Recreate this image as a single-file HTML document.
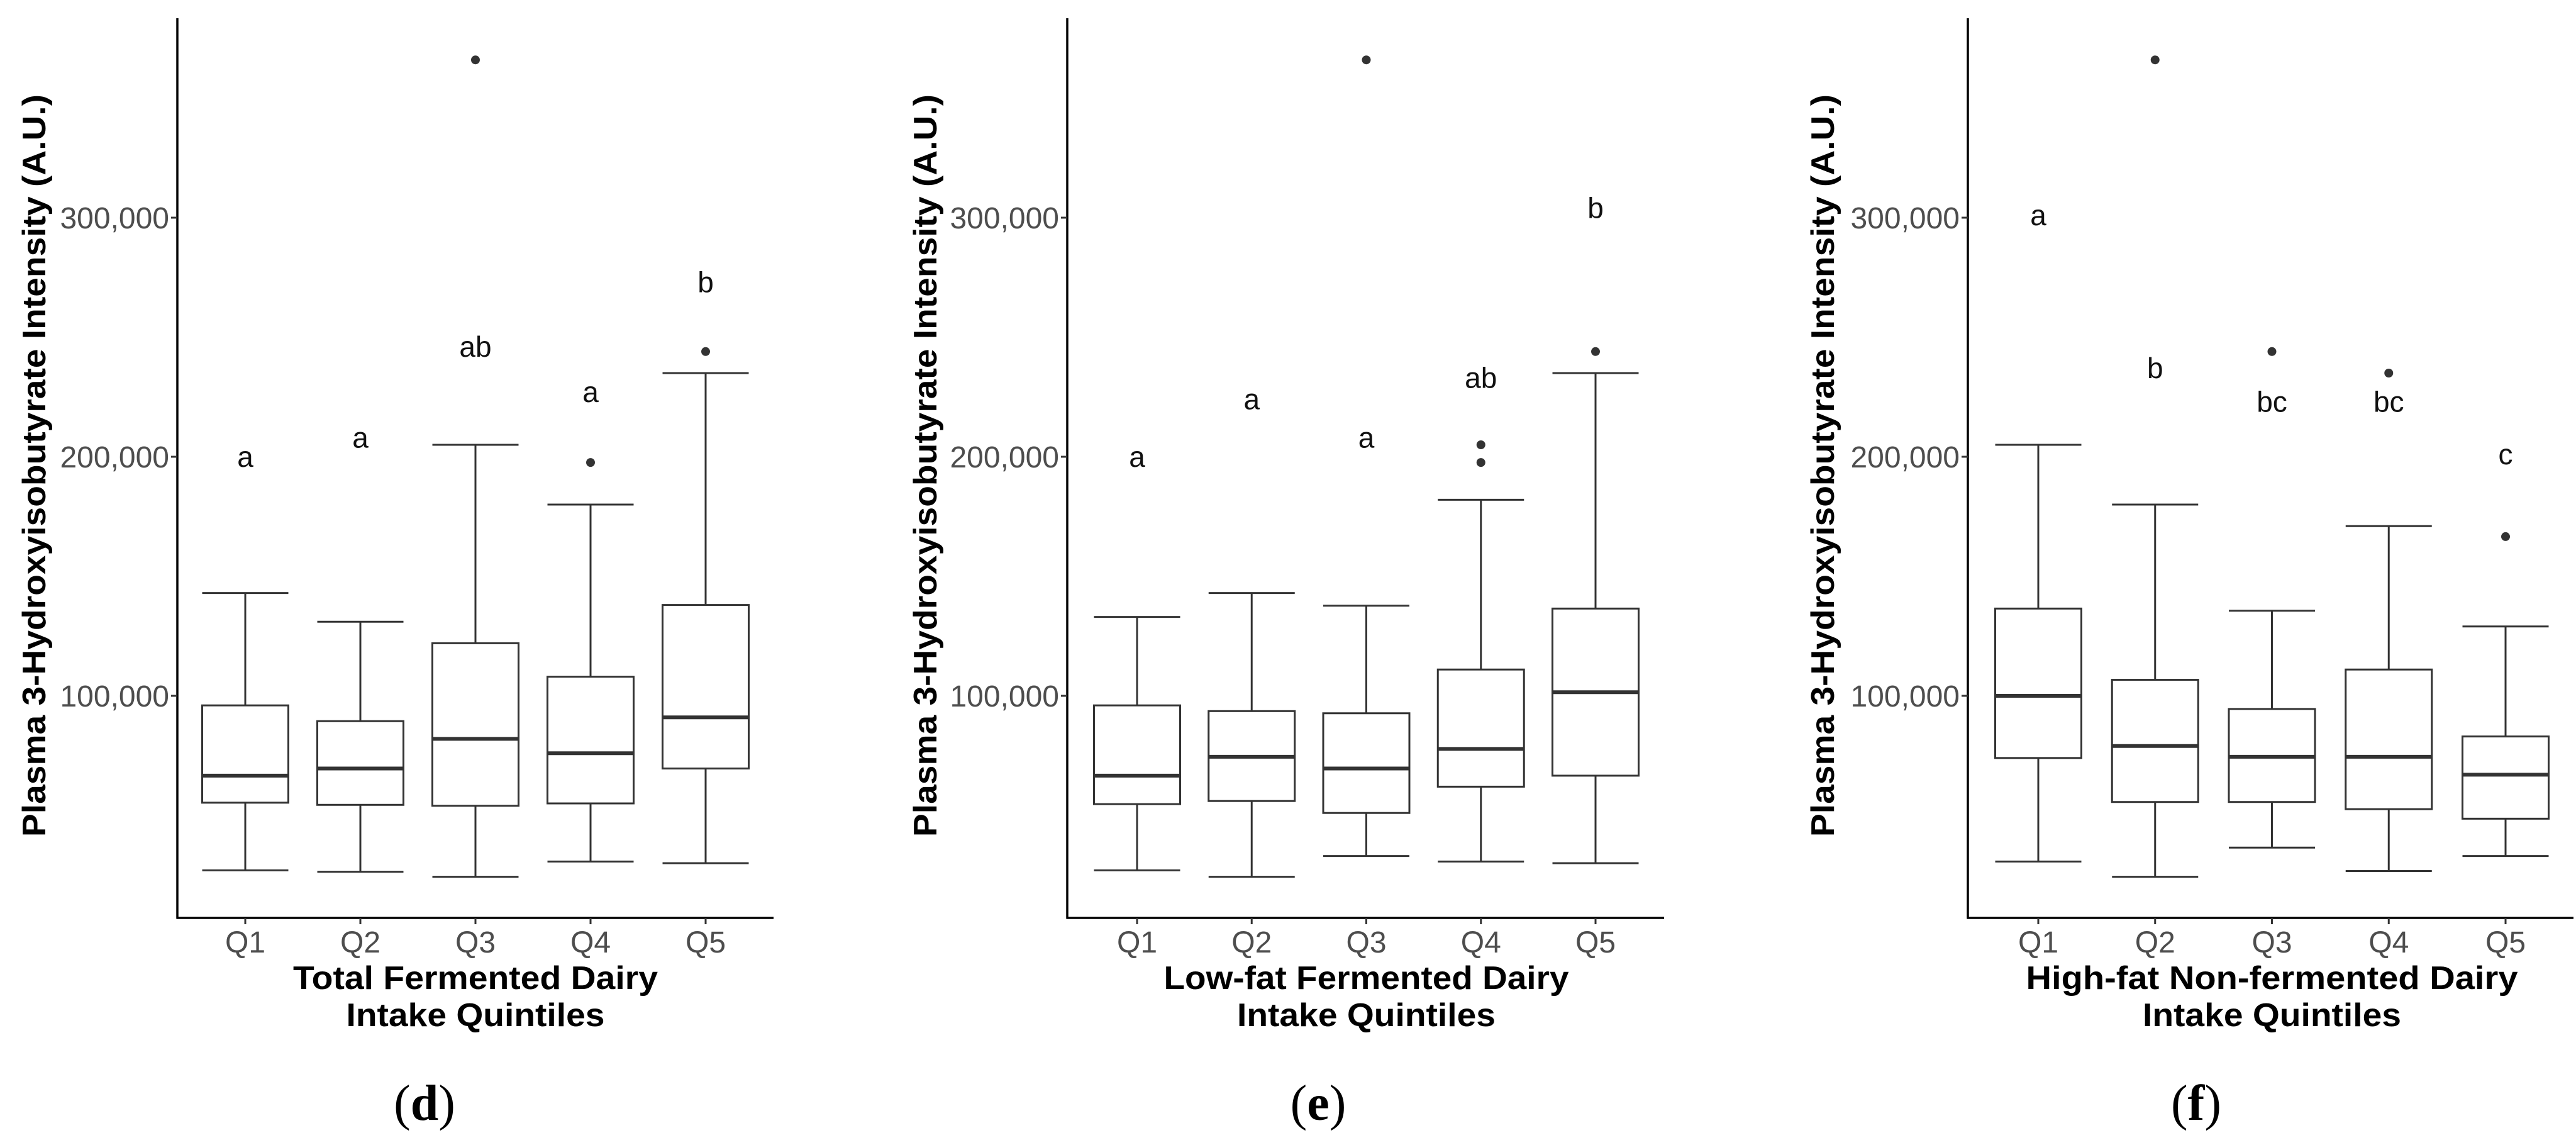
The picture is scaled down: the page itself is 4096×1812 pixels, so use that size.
<!DOCTYPE html>
<html><head><meta charset="utf-8">
<style>
html,body{margin:0;padding:0;background:#fff;}
svg{display:block;}
</style></head>
<body>
<svg id="fig" width="4096" height="1812" viewBox="0 0 4096 1812" xmlns="http://www.w3.org/2000/svg"></svg>
<script>
// ---- data (values in A.U.) ----
const categories = ["Q1","Q2","Q3","Q4","Q5"];
const yTicks = [100000, 200000, 300000];
const yTickLabels = ["100,000","200,000","300,000"];

const dTitle = ["Total Fermented Dairy","Intake Quintiles"];
const dLow = [27000, 26400, 24300, 30700, 30000];
const dQ1 = [55300, 54400, 54000, 55000, 69600];
const dMed = [66600, 69600, 82000, 76000, 91000];
const dQ3 = [96000, 89400, 122000, 108000, 138000];
const dHigh = [143000, 131000, 205000, 180000, 235000];
const dOutliers = [[], [], [366000], [197600], [244000]];
const dLetters = ["a","a","ab","a","b"];
const dLetterY = [199000, 207000, 245000, 226000, 272000];

const eTitle = ["Low-fat Fermented Dairy","Intake Quintiles"];
const eLow = [27000, 24300, 33000, 30700, 30000];
const eQ1 = [54700, 56000, 51000, 62000, 66600];
const eMed = [66600, 74500, 69600, 77800, 101500];
const eQ3 = [96000, 93600, 92700, 111000, 136500];
const eHigh = [133000, 143000, 137700, 182000, 235000];
const eOutliers = [[], [], [366000], [205000, 197600], [244000]];
const eLetters = ["a","a","a","ab","b"];
const eLetterY = [199000, 223000, 207000, 232000, 303000];

const fTitle = ["High-fat Non-fermented Dairy","Intake Quintiles"];
const fLow = [30700, 24300, 36500, 26700, 33000];
const fQ1 = [74000, 55600, 55600, 52600, 48600];
const fMed = [100000, 79000, 74500, 74500, 67000];
const fQ3 = [136500, 106700, 94500, 111000, 83000];
const fHigh = [205000, 180000, 135600, 171000, 129000];
const fOutliers = [[], [366000], [244000], [235000], [166600]];
const fLetters = ["a","b","bc","bc","c"];
const fLetterY = [300000, 236000, 222000, 222000, 200000];

const NS = "http://www.w3.org/2000/svg";
const svg = document.getElementById("fig");
function mk(tag, attrs, parent, text){
  const el = document.createElementNS(NS, tag);
  for (const k in attrs) el.setAttribute(k, attrs[k]);
  if (text !== undefined) el.textContent = text;
  (parent || svg).appendChild(el);
  return el;
}
// y axis scale shared: 100k at 1106, 200k at 726
function yScale(v){ return 1106 - (v - 100000) * 0.0038; }

function panel(cfg){
  const g = mk("g", {});
  
  
  const x0 = cfg.axisX, x1 = cfg.axisRight;
  const step = (cfg.q5x - cfg.q1x) / (categories.length - 1);
  const xScale = i => cfg.q1x + i * step;
  const bw = 137;
  // axes
  const ya = mk("line", {x1:x0, y1:29, x2:x0, y2:1460, stroke:"#000", "stroke-width":3.5}, g);
  
  
  const xa = mk("line", {x1:x0-1.5, y1:1459, x2:x1, y2:1459, stroke:"#000", "stroke-width":3.5}, g);
  
  
  // y ticks
  yTicks.forEach((v, i) => {
    const y = yScale(v);
    const t = mk("line", {x1:x0-10, y1:y, x2:x0, y2:y, stroke:"#333", "stroke-width":3}, g);
    
    
    const lb = mk("text", {x:x0-13, y:y+17, "text-anchor":"end", "font-family":"Liberation Sans, sans-serif", "font-size":48, fill:"#4d4d4d"}, g, yTickLabels[i]);
    
    
  });
  // boxes
  categories.forEach((c, i) => {
    const cx = xScale(i);
    const tk = mk("line", {x1:cx, y1:1459, x2:cx, y2:1469, stroke:"#333", "stroke-width":3}, g);
    
    
    const xl = mk("text", {x:cx, y:1514, "text-anchor":"middle", "font-family":"Liberation Sans, sans-serif", "font-size":48, fill:"#4d4d4d"}, g, c);
    
    
    const bg = mk("g", {stroke:"#333", fill:"none", "stroke-width":3}, g);
    
    
    const yl = yScale(cfg.low[i]), yq1 = yScale(cfg.q1[i]), ym = yScale(cfg.med[i]), yq3 = yScale(cfg.q3[i]), yh = yScale(cfg.high[i]);
    mk("line", {x1:cx, y1:yh, x2:cx, y2:yq3}, bg);
    mk("line", {x1:cx, y1:yq1, x2:cx, y2:yl}, bg);
    mk("line", {x1:cx-bw/2, y1:yh, x2:cx+bw/2, y2:yh}, bg);
    mk("line", {x1:cx-bw/2, y1:yl, x2:cx+bw/2, y2:yl}, bg);
    mk("rect", {x:cx-bw/2, y:yq3, width:bw, height:yq1-yq3, fill:"#fff"}, bg);
    mk("line", {x1:cx-bw/2, y1:ym, x2:cx+bw/2, y2:ym, "stroke-width":6}, bg);
    cfg.out[i].forEach(v => {
      const d = mk("circle", {cx:cx, cy:yScale(v), r:7, fill:"#333", stroke:"none"}, g);
      
      
    });
    const lt = mk("text", {x:cx, y:yScale(cfg.letY[i])+12, "text-anchor":"middle", "font-family":"Liberation Sans, sans-serif", "font-size":46, fill:"#111"}, g, cfg.letters[i]);
    
    
  });
  // y title
  const yt = mk("text", {x:0, y:0, transform:"translate(" + (cfg.ytX) + ",740) rotate(-90)", "text-anchor":"middle", "font-family":"Liberation Sans, sans-serif", "font-weight":"bold", "font-size":52, fill:"#000", textLength:1180, lengthAdjust:"spacingAndGlyphs"}, g, "Plasma 3-Hydroxyisobutyrate Intensity (A.U.)");
  
  
  // x title
  const cx3 = xScale(2);
  const xt1 = mk("text", {x:cx3, y:1572, "text-anchor":"middle", "font-family":"Liberation Sans, sans-serif", "font-weight":"bold", "font-size":52, fill:"#000", textLength:cfg.t1w, lengthAdjust:"spacingAndGlyphs"}, g, cfg.title[0]);
  
  
  const xt2 = mk("text", {x:cx3, y:1631, "text-anchor":"middle", "font-family":"Liberation Sans, sans-serif", "font-weight":"bold", "font-size":52, fill:"#000", textLength:411, lengthAdjust:"spacingAndGlyphs"}, g, cfg.title[1]);
  
  
  const pl = mk("text", {x:cfg.labX, y:1780, "text-anchor":"middle", "font-family":"Liberation Serif, serif", "font-size":80, fill:"#000"}, g);
  
  
  mk("tspan", {}, pl, "(");
  mk("tspan", {"font-weight":"bold"}, pl, cfg.id);
  mk("tspan", {}, pl, ")");
}

panel({id:"d", axisX:282, axisRight:1230, q1x:390, q5x:1122, ytX:72, labX:675, t1w:580, title:dTitle,
  low:dLow, q1:dQ1, med:dMed, q3:dQ3, high:dHigh, out:dOutliers, letters:dLetters, letY:dLetterY});
panel({id:"e", axisX:1697, axisRight:2646, q1x:1808, q5x:2537, ytX:1489, labX:2096, t1w:644, title:eTitle,
  low:eLow, q1:eQ1, med:eMed, q3:eQ3, high:eHigh, out:eOutliers, letters:eLetters, letY:eLetterY});
panel({id:"f", axisX:3129, axisRight:4092, q1x:3241, q5x:3984, ytX:2916, labX:3492, t1w:782, title:fTitle,
  low:fLow, q1:fQ1, med:fMed, q3:fQ3, high:fHigh, out:fOutliers, letters:fLetters, letY:fLetterY});
</script>
</body></html>
